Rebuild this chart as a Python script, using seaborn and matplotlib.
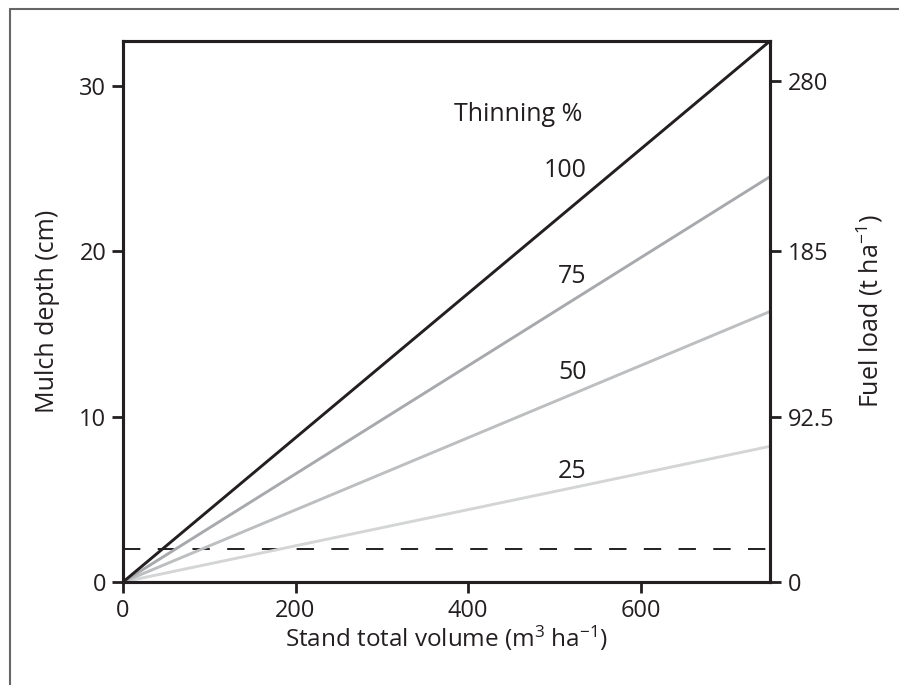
import matplotlib
matplotlib.use("Agg")
import matplotlib.pyplot as plt
import seaborn as sns
import pandas as pd
from matplotlib.lines import Line2D

# ---- data ----
thinning = ["100", "75", "50", "25"]
volume_range = [0, 750]
depth_at_0 = [0, 0, 0, 0]
depth_at_750 = [32.7, 24.5, 16.35, 8.2]
threshold_depth = 2.0
left_ticks = [0, 10, 20, 30]
right_ticks = [0, 92.5, 185, 280]
right_ticklabels = ["0", "92.5", "185", "280"]
x_ticks = [0, 200, 400, 600]
fuel_per_cm = 9.25
label_pos_x = [512, 521, 521, 521]
label_pos_y = [24.9, 18.45, 12.64, 6.65]

rows = []
for t, d0, d1 in zip(thinning, depth_at_0, depth_at_750):
    rows.append({"thinning": t, "volume": volume_range[0], "depth": d0})
    rows.append({"thinning": t, "volume": volume_range[1], "depth": d1})
df = pd.DataFrame(rows)

sns.set_theme(style="white")
plt.rcParams['font.family'] = ['Open Sans', 'DejaVu Sans']
plt.rcParams['lines.scale_dashes'] = False
plt.rcParams['mathtext.default'] = 'regular'

W, H = 899, 685
fig = plt.figure(figsize=(W / 100, H / 100), dpi=100)
ax = fig.add_axes([123 / W, 1 - 582 / H, (770 - 123) / W, (582 - 41) / H])

palette = {"100": "#231f20", "75": "#a7a9ac", "50": "#bcbec0", "25": "#d4d5d6"}
sns.lineplot(data=df, x="volume", y="depth", hue="thinning", hue_order=thinning[::-1],
             palette=palette, linewidth=2.1, legend=False, ax=ax)
for ln in ax.lines:
    if matplotlib.colors.to_hex(ln.get_color()) == "#231f20":
        ln.set_zorder(5)

ax.axhline(threshold_depth, color="#231f20", lw=1.4, dashes=(12.5, 12.5), zorder=1)

ax.set_xlim(0, 750)
ax.set_ylim(0, 32.7)
ax.set_xticks(x_ticks)
ax.set_yticks(left_ticks)

tick_color = "#231f20"
fs_tick = 17
fs_lab = 18
for s in ax.spines.values():
    s.set_linewidth(2.2)
    s.set_color(tick_color)
ax.tick_params(axis="both", direction="out", length=8, width=2.0, color=tick_color,
               labelsize=fs_tick, labelcolor="#231f20", pad=4, left=True, bottom=True)

ax.set_xlabel("Stand total volume (m$^{3}$ ha$^{-1}$)", fontsize=17.5, color="#231f20", labelpad=1)
ax.set_ylabel("Mulch depth (cm)", fontsize=fs_lab, color="#231f20", labelpad=14)

ax2 = ax.twinx()
ax2.set_ylim(0, 32.7 * fuel_per_cm)
ax2.set_yticks(right_ticks)
ax2.set_yticklabels(right_ticklabels)
ax2.tick_params(axis="y", direction="out", length=8, width=2.0, color=tick_color,
                labelsize=fs_tick, labelcolor="#231f20", pad=5, right=True)
for s in ax2.spines.values():
    s.set_linewidth(2.2)
    s.set_color(tick_color)
ax2.set_ylabel("Fuel load (t ha$^{-1}$)", fontsize=fs_lab, color="#231f20", labelpad=14)
ax2.grid(False)
ax.grid(False)

ax.text(458, 28.25, "Thinning %", fontsize=fs_lab, color="#231f20", ha="center", va="center")
for t, lx, ly in zip(thinning, label_pos_x, label_pos_y):
    ax.text(lx, ly, t, fontsize=fs_lab, color="#231f20", ha="center", va="center")

# outer frame
fx = 10 / W
fy = 1 - 9 / H
fig.add_artist(Line2D([fx, fx], [0, fy], color="#666666", lw=1.5, transform=fig.transFigure))
fig.add_artist(Line2D([fx, 1], [fy, fy], color="#666666", lw=1.5, transform=fig.transFigure))

fig.savefig("out.png", dpi=100)
